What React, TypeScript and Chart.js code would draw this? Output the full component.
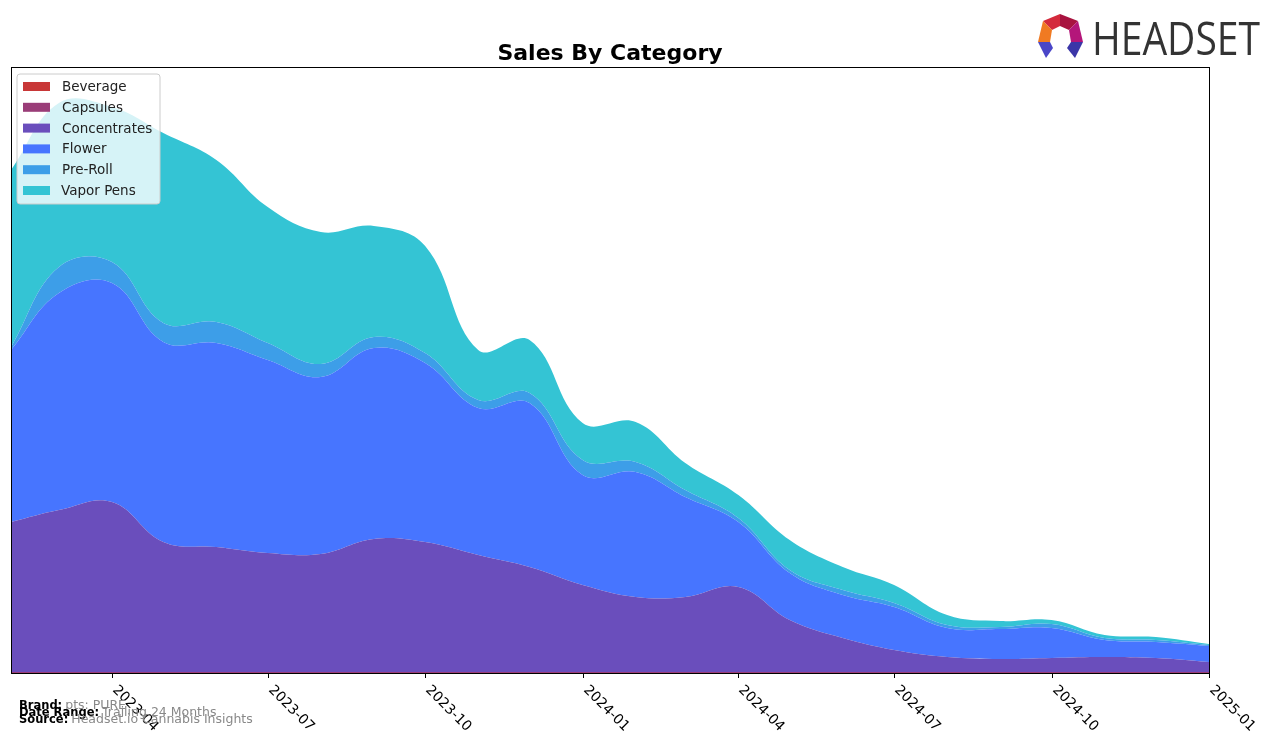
import React, { useEffect, useRef } from "react";
import { Chart, registerables } from "chart.js";

Chart.register(...registerables);

// ---- data (monthly, relative sales units) ----
const months = [
  "2023-02", "2023-03", "2023-04", "2023-05", "2023-06", "2023-07",
  "2023-08", "2023-09", "2023-10", "2023-11", "2023-12", "2024-01",
  "2024-02", "2024-03", "2024-04", "2024-05", "2024-06", "2024-07",
  "2024-08", "2024-09", "2024-10", "2024-11", "2024-12", "2025-01",
];
const beverage = [0, 0, 0, 0, 0, 0, 0, 0, 0, 0, 0, 0, 0, 0, 0, 0, 0, 0, 0, 0, 0, 0, 0, 0];
const capsules = [1, 1, 1, 1, 1, 1, 1, 1, 1, 1, 1, 1, 1, 1, 1, 1, 1, 1, 1, 1, 1, 1, 1, 1];
const concentrates = [150, 162, 170, 130, 125, 119, 118, 133, 130, 117, 105, 87, 75, 75, 85, 52, 34, 22, 15, 13, 14, 15, 14, 10];
const flower = [172, 217, 219, 200, 204, 193, 177, 191, 179, 147, 164, 110, 125, 100, 65, 47, 43, 43, 29, 30, 30, 17, 16, 16];
const preRoll = [3, 26, 21, 19, 21, 17, 13, 11, 10, 8, 10, 15, 10, 7, 4, 3, 5, 4, 3, 2, 4, 2, 2, 1];
const vaporPens = [177, 164, 155, 190, 162, 136, 132, 111, 107, 50, 53, 37, 40, 27, 23, 30, 23, 18, 10, 6, 4, 3, 3, 1];

const categories = ["Beverage", "Capsules", "Concentrates", "Flower", "Pre-Roll", "Vapor Pens"];
const seriesValues = [beverage, capsules, concentrates, flower, preRoll, vaporPens];
const colors = ["#c83737", "#9a3d78", "#6a4ebc", "#4775ff", "#3d9ee8", "#34c4d4"];

const tickLabels = ["2023-04", "2023-07", "2023-10", "2024-01", "2024-04", "2024-07", "2024-10", "2025-01"];
const yMax = 606;

const toTime = (m: string) => {
  const [y, mo] = m.split("-").map(Number);
  return Date.UTC(y, mo - 1, 1);
};

const FONT = '"DejaVu Sans", sans-serif';

const decorPlugin = {
  id: "decor",
  afterDraw(chart: any) {
    const ctx: CanvasRenderingContext2D = chart.ctx;
    const area = chart.chartArea;
    const xs = chart.scales.x;
    ctx.save();

    // frame
    ctx.strokeStyle = "#000";
    ctx.lineWidth = 1;
    ctx.strokeRect(area.left + 0.5, area.top + 0.5, area.right - area.left, area.bottom - area.top);

    // ticks + rotated labels
    ctx.fillStyle = "#000";
    ctx.font = `14px ${FONT}`;
    for (const t of tickLabels) {
      const px = Math.round(xs.getPixelForValue(toTime(t))) + 0.5;
      ctx.beginPath();
      ctx.moveTo(px, area.bottom);
      ctx.lineTo(px, area.bottom + 5);
      ctx.stroke();
      ctx.save();
      ctx.translate(px + 7, area.bottom + 10);
      ctx.rotate(Math.PI / 4);
      ctx.textAlign = "left";
      ctx.textBaseline = "top";
      ctx.fillText(t, 0, 0);
      ctx.restore();
    }

    // title
    ctx.font = `bold 22px ${FONT}`;
    ctx.textAlign = "center";
    ctx.textBaseline = "alphabetic";
    ctx.fillText("Sales By Category", (area.left + area.right) / 2, 60);

    // legend
    const lx = 17, ly = 74, lw = 143, lh = 130, r = 3;
    ctx.beginPath();
    ctx.moveTo(lx + r, ly);
    ctx.lineTo(lx + lw - r, ly);
    ctx.quadraticCurveTo(lx + lw, ly, lx + lw, ly + r);
    ctx.lineTo(lx + lw, ly + lh - r);
    ctx.quadraticCurveTo(lx + lw, ly + lh, lx + lw - r, ly + lh);
    ctx.lineTo(lx + r, ly + lh);
    ctx.quadraticCurveTo(lx, ly + lh, lx, ly + lh - r);
    ctx.lineTo(lx, ly + r);
    ctx.quadraticCurveTo(lx, ly, lx + r, ly);
    ctx.closePath();
    ctx.fillStyle = "rgba(255,255,255,0.8)";
    ctx.fill();
    ctx.strokeStyle = "#cccccc";
    ctx.stroke();
    ctx.font = `13.5px ${FONT}`;
    ctx.textAlign = "left";
    ctx.textBaseline = "middle";
    categories.forEach((c, i) => {
      const cy = 86.5 + i * 20.8;
      ctx.fillStyle = colors[i];
      ctx.fillRect(23, cy - 4.5, 27, 9);
      ctx.fillStyle = "#222";
      ctx.fillText(c, i === 5 ? 61 : 62, cy + 1);
    });

    // footer
    ctx.textBaseline = "alphabetic";
    const rows: [string, string, number][] = [
      ["Brand:", "pts: PURE", 709],
      ["Date Range:", "Trailing 24 Months", 716],
      ["Source:", "Headset.io Cannabis Insights", 723],
    ];
    for (const [lab, val, y] of rows) {
      ctx.font = `bold 11.5px ${FONT}`;
      ctx.fillStyle = "#000";
      ctx.fillText(lab, 19, y);
      const w = ctx.measureText(lab).width;
      ctx.font = `12.5px ${FONT}`;
      ctx.fillStyle = "#888";
      ctx.fillText(val, 19 + w + 3, y);
    }

    // logo icon
    const poly = (pts: number[][], col: string) => {
      ctx.beginPath();
      ctx.moveTo(pts[0][0], pts[0][1]);
      for (let k = 1; k < pts.length; k++) ctx.lineTo(pts[k][0], pts[k][1]);
      ctx.closePath();
      ctx.fillStyle = col;
      ctx.fill();
    };
    poly([[1043, 21], [1060, 14], [1060, 26], [1052, 30]], "#d42a3c");
    poly([[1060, 14], [1078, 21], [1069, 30], [1060, 26]], "#a8133f");
    poly([[1078, 21], [1083, 42], [1071, 42], [1069, 30]], "#b4167a");
    poly([[1043, 21], [1052, 30], [1050, 42], [1038, 42]], "#f07a22");
    poly([[1038, 42], [1050, 42], [1053, 48], [1046, 58]], "#4a46c8");
    poly([[1071, 42], [1083, 42], [1075, 58], [1067, 48]], "#3b36a8");

    // logo text
    ctx.save();
    ctx.font = `46px "Open Sans", sans-serif`;
    ctx.fillStyle = "#333";
    ctx.textAlign = "left";
    ctx.textBaseline = "alphabetic";
    const tw = ctx.measureText("HEADSET").width;
    ctx.translate(1092, 55);
    ctx.scale(168 / tw, 1);
    ctx.fillText("HEADSET", 0, 0);
    ctx.restore();

    ctx.restore();
  },
};

export default function App() {
  const ref = useRef<HTMLCanvasElement | null>(null);
  useEffect(() => {
    document.body.style.margin = "0";
    if (!ref.current) return;
    const chart = new Chart(ref.current, {
      type: "line",
      data: {
        datasets: categories.map((c, i) => ({
          label: c,
          data: months.map((m, j) => ({ x: toTime(m), y: seriesValues[i][j] })),
          backgroundColor: colors[i],
          borderColor: colors[i],
          borderWidth: 0,
          pointRadius: 0,
          fill: i === 0 ? "origin" : "-1",
          tension: 0.4,
        })),
      },
      options: {
        animation: false,
        responsive: false,
        layout: { padding: { left: 11, top: 67, right: 67, bottom: 70 } },
        plugins: { legend: { display: false }, title: { display: false }, tooltip: { enabled: false } },
        scales: {
          x: { type: "linear", display: false, min: toTime(months[0]), max: toTime(months[months.length - 1]) },
          y: { display: false, stacked: true, min: 0, max: yMax },
        },
      },
      plugins: [decorPlugin],
    });
    return () => chart.destroy();
  }, []);
  return (
    <div style={{ position: "absolute", left: 0, top: 0, width: 1276, height: 743 }}>
      <canvas ref={ref} width={1276} height={743} style={{ width: 1276, height: 743 }} />
    </div>
  );
}
